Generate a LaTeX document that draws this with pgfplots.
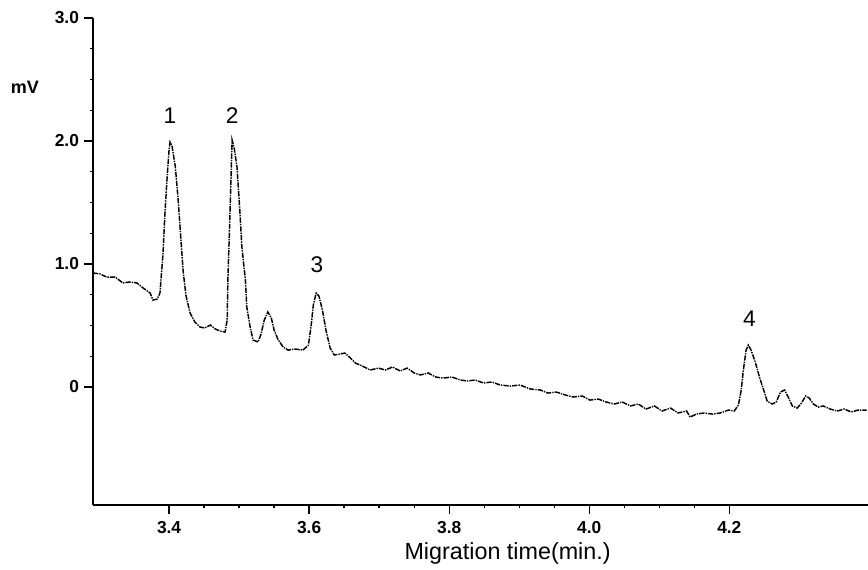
\documentclass[border=0pt]{standalone}
\usepackage{pgfplots}
\pgfplotsset{compat=1.18}
\usepackage{fontspec}
\setmainfont{Liberation Sans}
\newcommand\tl{\fontsize{13}{15}\selectfont\bfseries}

% electropherogram trace
\pgfplotstableread{
t v
3.2914 0.927
3.301 0.920
3.311 0.894
3.323 0.894
3.334 0.846
3.344 0.854
3.354 0.846
3.363 0.805
3.373 0.764
3.377 0.707
3.383 0.715
3.387 0.764
3.3914 1.089
3.394 1.400
3.397 1.683
3.400 1.927
3.4014 1.992
3.404 1.967
3.409 1.789
3.413 1.520
3.416 1.276
3.420 0.951
3.424 0.748
3.430 0.602
3.437 0.528
3.444 0.488
3.451 0.480
3.459 0.504
3.466 0.472
3.473 0.455
3.480 0.447
3.483 0.545
3.484 0.870
3.487 1.415
3.4886 1.720
3.490 2.008
3.493 1.943
3.497 1.789
3.501 1.439
3.504 1.138
3.509 0.870
3.511 0.650
3.516 0.480
3.520 0.382
3.527 0.366
3.531 0.423
3.536 0.545
3.541 0.610
3.546 0.561
3.550 0.463
3.556 0.382
3.563 0.325
3.570 0.300
3.580 0.309
3.591 0.300
3.599 0.341
3.603 0.504
3.606 0.667
3.610 0.764
3.614 0.740
3.619 0.626
3.624 0.463
3.630 0.317
3.636 0.260
3.644 0.268
3.651 0.276
3.659 0.236
3.666 0.195
3.676 0.171
3.687 0.138
3.699 0.154
3.709 0.138
3.719 0.163
3.730 0.130
3.740 0.154
3.750 0.114
3.759 0.098
3.770 0.114
3.781 0.081
3.791 0.073
3.804 0.081
3.816 0.057
3.826 0.049
3.837 0.057
3.849 0.033
3.861 0.041
3.873 0.016
3.887 0.008
3.901 0.016
3.916 -0.016
3.930 -0.024
3.941 -0.049
3.953 -0.041
3.966 -0.065
3.977 -0.081
3.990 -0.073
4.001 -0.106
4.013 -0.098
4.024 -0.122
4.036 -0.138
4.047 -0.122
4.059 -0.154
4.070 -0.138
4.081 -0.179
4.093 -0.154
4.104 -0.195
4.116 -0.171
4.127 -0.211
4.139 -0.195
4.144 -0.244
4.153 -0.220
4.164 -0.211
4.176 -0.220
4.187 -0.211
4.199 -0.187
4.207 -0.195
4.213 -0.146
4.217 -0.024
4.220 0.138
4.224 0.301
4.227 0.341
4.231 0.301
4.237 0.203
4.243 0.081
4.249 -0.024
4.254 -0.114
4.261 -0.138
4.267 -0.122
4.273 -0.041
4.279 -0.024
4.284 -0.081
4.290 -0.154
4.297 -0.171
4.303 -0.130
4.309 -0.073
4.314 -0.089
4.320 -0.138
4.327 -0.163
4.334 -0.154
4.344 -0.179
4.354 -0.195
4.364 -0.179
4.374 -0.203
4.384 -0.187
4.396 -0.187
}\trace

\begin{document}
\begin{tikzpicture}
	\begin{axis}[
			name=ax,
			scale only axis,
			width=581.25pt,
			height=365.25pt,
			axis x line=bottom,
			axis y line=left,
			axis line style={-, line width=1.2pt},
			xmin=3.2914, xmax=4.398,
			ymin=-0.959, ymax=3.0,
			xtick={3.4,3.6,3.8,4.0,4.2},
			xticklabels={{\tl 3.4},{\tl 3.6},{\tl 3.8},{\tl 4.0},{\tl 4.2}},
			minor x tick num=3,
			ytick={0,1,2,3},
			yticklabels={{\tl 0},{\tl 1.0},{\tl 2.0},{\tl 3.0}},
			minor y tick num=3,
			tick align=outside,
			major tick length=7pt,
			minor tick length=2.5pt,
			every tick/.style={black, line width=1pt},
			xticklabel style={yshift=-2pt},
			clip=false,
			]
			\addplot[black, line width=1.1pt, dash pattern=on 4pt off 0.8pt on 1pt off 0.8pt]
				table[x=t, y=v] {\trace};
			\node[anchor=base, font=\fontsize{17}{19}\selectfont] at (axis cs:3.4014,2.146) {1};
			\node[anchor=base, font=\fontsize{17}{19}\selectfont] at (axis cs:3.490,2.146) {2};
			\node[anchor=base, font=\fontsize{17}{19}\selectfont] at (axis cs:3.611,0.935) {3};
			\node[anchor=base, font=\fontsize{17}{19}\selectfont] at (axis cs:4.2286,0.488) {4};
			\node[anchor=base, font=\fontsize{13.5}{15}\selectfont\bfseries, xshift=-51pt] at (axis cs:3.2914,2.39) {mV};
			\node[anchor=base, font=\fontsize{17.5}{20}\selectfont, yshift=-41.25pt] at (rel axis cs:0.535,0) {Migration time(min.)};
	\end{axis}
	\pgfresetboundingbox
	\path ([shift={(-69.75pt,-48.75pt)}]ax.south west) rectangle ([shift={(581.25pt,378.75pt)}]ax.south west);
\end{tikzpicture}
\end{document}
